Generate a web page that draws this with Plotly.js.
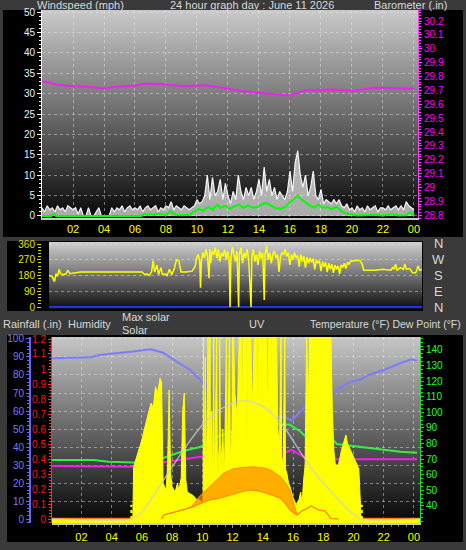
<!DOCTYPE html>
<html><head><meta charset="utf-8">
<script src="https://cdn.plot.ly/plotly-3.0.1.min.js"></script>
<style>html,body{margin:0;padding:0;background:#3a3a3a;overflow:hidden}#chart{width:466px;height:550px}</style>
</head><body><div id="chart"></div>
<script>
// ---------------- DATA ----------------
const hourTicks = [2,4,6,8,10,12,14,16,18,20,22,24];
const hourLabels = ['02','04','06','08','10','12','14','16','18','20','22','00'];

// wind gust (mph), one reading every 10 minutes from 00:00 to 24:00
const gustMph = [
 2,1,2.5,1.5,2,1,   2.5,1.5,2,1,2.5,2,   1.5,2,0.5,2,0,0,   2,0,0,1,2,0,
 0,0,0,2,1,2,       1.5,2.5,1,2,2.5,1.5, 2,1.5,2.5,1,2,2.5, 1.5,2,2.5,1,2,1.5,
 2.5,2,3.5,1.5,2.5,2, 1.5,2.5,2,1.5,2,2.5, 4,3,3.5,5,10,4,  9.5,5,6,9,4,8,
 5,3,6,4,10,6,      4,7,5,7,4,6,         9,5,12,6,9,5,      7,4,6,5,4,6,
 11,6,13,16,10,7,   10,5,7,11,5,4,       6.5,3,4,3.5,3,4,   3,4,2.5,2,3,1.5,
 2,1,2.5,1.5,2,1,   2.5,1.5,2,2.5,1,2,   2,1.5,2.5,1.5,2,2.5, 1.5,2.5,1.5,3.5,2.5,2,
 1.5];
const avgHours = [0,0.6,0.73,0.9,6.4,6.6,6.8,7.0,7.2,7.6,8.0,8.3,8.6,9.0,9.5,9.8,10.1,10.4,10.7,11.0,11.3,11.5,11.8,12.1,12.4,12.7,13.0,13.3,13.6,13.9,14.2,14.5,14.8,15.1,15.4,15.7,16.0,16.3,16.5,16.7,17.0,17.3,17.6,17.8,18.1,18.4,18.7,19.0,19.3,19.6,20.0,20.3,20.8,21.4,22.0,22.6,23.0,23.5,23.8,24.0];
const avgMph   = [0,0,0.7,0,0,0.5,0.2,0.5,0.3,0.6,0.2,1.2,0.3,0.2,0.3,1.0,1.8,1.2,2.2,1.6,2.7,2.0,2.5,1.8,2.3,2.8,2.0,2.6,2.0,2.2,2.9,3.2,2.5,1.9,1.8,2.2,3.4,4.2,5.0,4.2,3.3,2.5,2.0,2.8,2.0,2.2,1.6,2.3,1.2,0.6,0.4,0.1,0.2,0.3,0.1,0.4,0.1,0.2,0.9,0.2];
const baroHours = [0,0.2,0.95,1.6,2.9,4.05,4.8,5.9,6.75,8.0,9.1,10.6,11.9,13.2,14.5,15.6,16.0,17.0,18.8,20.1,21.4,22.7,24.0];
const baroInHg  = [29.765,29.762,29.743,29.733,29.726,29.714,29.726,29.733,29.75,29.743,29.731,29.738,29.714,29.69,29.678,29.668,29.663,29.702,29.707,29.697,29.719,29.716,29.712];

// wind direction readings [hour, degrees]
const dirReadings = [[0,180],[0.2,175],[0.35,145],[0.45,190],[0.55,175],[0.65,215],[0.75,190],[0.9,185],[1.1,190],[1.2,210],[1.35,190],[1.7,195],[2,200],[3,200],[4,200],[5,200],[6,200],[6.15,185],[6.3,190],[6.45,180],[6.6,200],[6.7,265],[6.8,200],[6.95,240],[7.05,185],[7.2,225],[7.3,185],[7.5,190],[7.6,180],[7.75,215],[7.9,185],[8.05,215],[8.2,270],[8.35,265],[8.5,200],[8.8,200],[9.2,205],[9.4,230],[9.5,280],[9.6,300],[9.7,260],[9.75,110],[9.8,260],[9.9,310],[10,280],[10.1,330],[10.2,290],[10.3,165],[10.35,330],[10.4,250],[10.5,320],[10.6,300],[10.7,340],[10.8,280],[10.9,330],[11,260],[11.1,310],[11.2,290],[11.3,330],[11.4,270],[11.5,320],[11.6,250],[11.65,0],[11.7,280],[11.8,345],[11.9,300],[12,260],[12.1,320],[12.2,0],[12.25,300],[12.35,340],[12.45,250],[12.55,310],[12.65,280],[12.75,330],[12.85,270],[13,0],[13.05,290],[13.15,330],[13.25,260],[13.35,300],[13.45,240],[13.55,320],[13.65,280],[13.75,310],[13.85,40],[13.9,300],[14,350],[14.1,270],[14.2,310],[14.3,250],[14.4,300],[14.5,320],[14.6,280],[14.7,300],[14.8,200],[14.9,290],[15,310],[15.1,300],[15.2,330],[15.3,290],[15.4,310],[15.5,240],[15.6,300],[15.7,270],[15.8,310],[15.9,280],[16,295],[16.1,230],[16.2,300],[16.3,260],[16.4,290],[16.5,225],[16.6,285],[16.7,250],[16.8,280],[16.9,255],[17,275],[17.1,215],[17.2,270],[17.3,250],[17.4,265],[17.5,205],[17.6,260],[17.7,230],[17.8,255],[17.9,200],[18,250],[18.1,215],[18.2,245],[18.3,195],[18.4,240],[18.5,215],[18.6,235],[18.7,190],[18.8,240],[18.9,225],[19,250],[19.1,220],[19.2,255],[19.3,245],[19.4,260],[19.7,265],[20,265],[20.15,245],[20.25,210],[20.6,210],[21,210],[21.5,215],[22,210],[22.1,225],[22.2,215],[22.3,245],[22.4,210],[22.6,225],[22.8,215],[22.9,245],[23,215],[23.2,220],[23.4,195],[23.6,195],[23.75,235],[23.85,210],[24,215]];
const dirBaseHours = [0,24];
const dirBaseDeg = [0,0];
const compassLabels = ['N','W','S','E','N'];
const compassDeg = [360,270,180,90,0];

// solar radiation readings [hour, W/m2]
const solarReadings = [[0,0],[5.4,0],[5.45,290],[5.6,330],[5.8,374],[6.0,440],[6.1,478],[6.3,540],[6.5,605],[6.6,644],[6.75,620],[6.9,735],[7.05,700],[7.2,783],[7.3,760],[7.4,200],[7.5,180],[7.6,160],[7.7,300],[7.8,717],[7.9,250],[8.0,180],[8.2,150],[8.35,200],[8.45,160],[8.6,230],[8.7,605],[8.8,700],[8.9,220],[9.0,150],[9.2,140],[9.4,130],[9.6,110],[9.8,106],
 [10.0,90],[10.05,100],[10.08,1050],[10.12,150],[10.2,900],[10.25,140],[10.38,1050],[10.42,120],[10.5,1050],[10.55,180],[10.62,600],[10.67,110],[10.75,1050],[10.8,140],[10.95,1050],[11.0,180],[11.1,400],[11.15,1050],[11.2,220],[11.35,500],[11.45,200],[11.6,1050],[11.65,280],[11.8,1050],[11.85,320],[11.95,500],[12.0,1050],[12.05,1050],[12.15,700],[12.3,560],[12.45,1050],[12.6,1050],[12.65,480],[12.7,1050],[12.9,1050],[12.95,420],[13.0,1050],[13.2,1050],[13.3,600],[13.45,1050],[13.6,1050],[13.65,450],[13.7,1050],[13.9,1050],[13.95,550],[14.0,1050],[14.25,1050],[14.32,550],[14.4,1050],[14.55,1050],[14.6,500],[14.65,1050],[14.9,1050],[15.0,500],[15.1,380],[15.2,1050],[15.25,350],[15.35,300],[15.45,1050],[15.5,280],[15.6,250],[15.7,200],[15.8,180],
 [16.0,120],[16.2,80],[16.4,110],[16.5,150],[16.6,90],[16.7,217],[16.8,300],[16.9,1050],[17.0,600],[17.1,1050],[18.5,1050],[18.6,600],[18.7,380],[18.8,300],[19.0,300],[19.2,380],[19.4,440],[19.5,467],[19.6,420],[19.8,380],[20.0,345],[20.2,300],[20.35,280],[20.45,100],[20.5,0],[24.4,0]];
const maxSolarReadings = [[0,0],[5.4,0],[6.0,40],[6.6,110],[7.0,160],[7.7,250],[8.8,390],[9.9,513],[11.0,600],[12.0,644],[12.8,657],[13.5,645],[14.3,610],[15.4,513],[16.5,370],[17.6,240],[18.7,135],[19.8,40],[20.5,0],[24.4,0]];
// UV index readings [hour, low, high]
const uvReadings = [[7.3,0,0],[7.44,0.7,0.7],[8.0,1.1,1.1],[8.76,1.55,1.55],[9.3,2.0,2.2],[9.87,2.7,4.1],[10.5,3.3,5.6],[11.0,3.5,6.9],[11.4,3.8,7.9],[12.07,4.4,8.7],[12.6,4.7,8.9],[13.2,5.0,9.0],[13.8,4.8,8.9],[14.28,4.4,8.7],[14.7,4.0,8.1],[15.17,3.6,7.3],[15.5,2.6,6.2],[15.8,1.55,5.0],[16.05,1.0,2.5],[16.27,0.7,0.7],[16.5,1.26,1.26],[16.9,1.8,1.8],[17.2,2.24,2.24],[17.5,1.8,1.8],[17.7,1.55,1.55],[18.1,1.4,1.4],[18.5,0.1,0.1],[19.0,0,0]];
const humReadings = [[0.05,89.3],[1,89.5],[2.6,89.8],[3.2,91.1],[4.3,92],[5.4,93],[6.6,94.3],[7.4,92.4],[8.3,87.4],[9.2,82.8],[10.1,75.4],[11.0,68],[12.1,62.4],[13.2,56.5],[14.3,56],[15.4,57],[15.9,54.6],[16.5,59.6],[17.2,66],[17.6,63],[17.9,66],[18.5,67],[18.9,71.7],[19.8,76.3],[20.5,77.6],[21.0,80],[22.0,82.8],[23.1,86.5],[23.8,88.7],[24.2,88]];
const tempReadings = [[0.05,69.5],[2.8,69.5],[3.8,68.4],[5.4,67.8],[6.6,68],[7.7,71.6],[8.8,75.4],[9.9,78],[11.0,84.4],[12.1,88],[13.2,90.8],[14.3,93],[15.4,92.4],[15.8,92],[16.5,87.6],[17.2,81.2],[17.8,82.3],[18.5,83.8],[18.9,79.7],[19.8,78.7],[20.9,77],[22.0,75.9],[23.1,74.8],[24.2,74.2]];
const dewReadings = [[0.05,65.6],[5.4,65.2],[6.6,66.3],[7.7,68.4],[8.8,69.9],[9.9,71.6],[11.0,72.7],[12.1,72.7],[13.2,73.8],[14.3,74.6],[15.6,74.8],[15.9,75.9],[16.5,72.7],[17.2,68.4],[17.8,67.4],[18.5,69.9],[19.8,69.9],[22,69.9],[24.2,69.9]];
const rainHours = [0.05,24.4];
const rainIn = [0,0];
const sunEvents = [5.3,20.55];

// ---------------- LAYOUT HELPERS ----------------
const W = 466, H = 550;
const px = v => v / W, py = v => 1 - v / H;
const topX = [px(42), px(418)], topY = [py(218), py(10)];
const midX = [px(49), px(422)], midY = [py(309), py(242)];
const lowX = [px(52), px(420)], lowY = [py(523), py(337)];
const windRange = [-0.5, 50.5], baroRange = [28.78, 30.28];
const dirRange = [-11.4, 371.4];
const humRange = [-2.2, 101.1], rainRange = [-0.0267, 1.2133], tempRange = [29.1, 148.3];
const solarRange = [-22, 1011], uvRange = [-0.69, 31.4];

const col = (arr, i) => arr.map(r => r[i]);
const FONT = 'Liberation Sans, Arial, sans-serif';
const GRID = 'rgba(235,235,235,0.45)';

function svgUri(body){ return 'data:image/svg+xml;charset=utf-8,' + encodeURIComponent('<svg xmlns="http://www.w3.org/2000/svg" width="10" height="100" viewBox="0 0 10 100" preserveAspectRatio="none">' + body + '</svg>'); }
const blackUri = svgUri('<rect width="10" height="100" fill="#000"/>');
function gradUri(c0, c1, c2){ return svgUri('<defs><linearGradient id="g" x1="0" y1="0" x2="0" y2="1"><stop offset="0" stop-color="'+c0+'"/><stop offset="0.5" stop-color="'+c1+'"/><stop offset="1" stop-color="'+c2+'"/></linearGradient></defs><rect width="10" height="100" fill="url(#g)"/>'); }
function panel(src, x0, x1, y0, y1){ return {source: src, xref:'paper', yref:'paper', x: px(x0), y: py(y0), sizex: px(x1)-px(x0), sizey: py(y0)-py(y1), sizing:'stretch', layer:'below', xanchor:'left', yanchor:'top'}; }
function plotBg(src, dx, dy){ return {source: src, xref:'paper', yref:'paper', x: dx[0], y: dy[1], sizex: dx[1]-dx[0], sizey: dy[1]-dy[0], sizing:'stretch', layer:'below', xanchor:'left', yanchor:'top'}; }

// ---------------- TRACES ----------------
const base = {type:'scatter', mode:'lines', hoverinfo:'skip', showlegend:false};
const traces = [
  Object.assign({}, base, {x: gustMph.map((_, i) => i / 6), y: gustMph, xaxis:'x', yaxis:'y', line:{color:'#f6f6f6', width:1.2}, fill:'tozeroy', fillcolor:'rgba(240,240,240,0.7)'}),
  Object.assign({}, base, {x: avgHours, y: avgMph, xaxis:'x', yaxis:'y', line:{color:'#00ff00', width:2}}),
  Object.assign({}, base, {x: baroHours, y: baroInHg, xaxis:'x', yaxis:'y2', line:{color:'#ee22ee', width:2}}),

  Object.assign({}, base, {x: dirBaseHours, y: dirBaseDeg, xaxis:'x2', yaxis:'y3', line:{color:'#2030ff', width:2}}),
  Object.assign({}, base, {x: col(dirReadings,0), y: col(dirReadings,1), xaxis:'x2', yaxis:'y3', line:{color:'#ffff00', width:1.5}}),

  Object.assign({}, base, {x: rainHours, y: [solarRange[0], solarRange[0]], xaxis:'x3', yaxis:'y7', line:{width:0, color:'rgba(0,0,0,0)'}}),
  Object.assign({}, base, {x: col(solarReadings,0), y: col(solarReadings,1), xaxis:'x3', yaxis:'y7', line:{color:'#ffff00', width:1}, fill:'tonexty', fillcolor:'#ffff00'}),
  Object.assign({}, base, {x: col(uvReadings,0), y: col(uvReadings,1), xaxis:'x3', yaxis:'y8', line:{color:'#ff8c00', width:1.2}}),
  Object.assign({}, base, {x: col(uvReadings,0), y: col(uvReadings,2), xaxis:'x3', yaxis:'y8', line:{color:'#ff8c00', width:1}, fill:'tonexty', fillcolor:'rgba(255,140,0,0.7)'}),
  Object.assign({}, base, {x: rainHours, y: rainIn, xaxis:'x3', yaxis:'y5', line:{color:'#ff0000', width:3}}),
  Object.assign({}, base, {x: col(maxSolarReadings,0), y: col(maxSolarReadings,1), xaxis:'x3', yaxis:'y7', line:{color:'rgba(205,205,205,0.75)', width:1.5, shape:'spline', smoothing:0.5}}),
  Object.assign({}, base, {x: col(humReadings,0), y: col(humReadings,1), xaxis:'x3', yaxis:'y4', line:{color:'#7c7cff', width:2}}),
  Object.assign({}, base, {x: col(tempReadings,0), y: col(tempReadings,1), xaxis:'x3', yaxis:'y6', line:{color:'#33ee44', width:2}}),
  Object.assign({}, base, {x: col(dewReadings,0), y: col(dewReadings,1), xaxis:'x3', yaxis:'y6', line:{color:'#ee22ee', width:2}})
];

// ---------------- AXES ----------------
const hourAxis = (domain, range, anchor) => ({domain, range, anchor, tickmode:'array', tickvals: hourTicks, ticktext: hourLabels,
  tickfont:{family:FONT, size:11, color:'#ffff00'}, showgrid:true, gridcolor:GRID, griddash:'dot', zeroline:false,
  showline:true, linecolor:'#c8c8c8', linewidth:2, ticks:'', fixedrange:true});

const layout = {
  width: W, height: H, margin:{l:0, r:0, t:0, b:0}, paper_bgcolor:'#3a3a3a', plot_bgcolor:'rgba(0,0,0,0)',
  showlegend:false, font:{family:FONT, color:'#d8d8d8'},
  xaxis: hourAxis(topX, [0, 24.26], 'y'),
  yaxis: {domain: topY, range: windRange, tickmode:'linear', tick0:0, dtick:5, tickfont:{family:FONT, size:10, color:'#e6f0ff'},
    showline:true, linecolor:'#ffffff', linewidth:1, ticks:'outside', ticklen:4, tickcolor:'#ffffff',
    minor:{dtick:1, ticks:'outside', ticklen:2, tickcolor:'#ffffff', showgrid:false},
    showgrid:true, gridcolor:GRID, griddash:'dot', zeroline:false, fixedrange:true},
  yaxis2: {overlaying:'y', side:'right', anchor:'x', range: baroRange, tickmode:'linear', tick0:28.8, dtick:0.1,
    tickfont:{family:FONT, size:10, color:'#ff00ff'}, showline:true, linecolor:'#ff40ff', linewidth:1,
    ticks:'outside', ticklen:3, tickcolor:'#ff40ff', minor:{dtick:0.02, ticks:'outside', ticklen:2, tickcolor:'#ff40ff'},
    showgrid:false, zeroline:false, fixedrange:true},

  xaxis2: {domain: midX, range:[0,24], anchor:'y3', showticklabels:false, showgrid:false, zeroline:false, showline:false, ticks:'', fixedrange:true},
  yaxis3: {domain: midY, range: dirRange, tickmode:'array', tickvals:[0,90,180,270,360], tickfont:{family:FONT, size:10, color:'#e6e600'},
    ticks:'outside', ticklen:4, tickcolor:'#d8d800', minor:{tickmode:'linear', tick0:0, dtick:18, ticks:'outside', ticklen:3, tickcolor:'#d8d800'},
    showgrid:true, gridcolor:GRID, griddash:'dot', zeroline:false, showline:false, fixedrange:true},

  xaxis3: Object.assign(hourAxis(lowX, [0.05, 24.4], 'y4'), {ticks:'outside', ticklen:3, tickcolor:'#909090',
    minor:{tickmode:'linear', dtick:0.5, tick0:0, ticks:'outside', ticklen:2, tickcolor:'#808080', showgrid:false}}),
  yaxis4: {domain: lowY, range: humRange, anchor:'free', position: px(30), side:'left', tickmode:'linear', tick0:0, dtick:10,
    tickfont:{family:FONT, size:10, color:'#7878ff'}, showline:true, linecolor:'#6666ff', linewidth:2,
    ticks:'outside', ticklen:3, tickcolor:'#6666ff', minor:{dtick:2, ticks:'outside', ticklen:2, tickcolor:'#6666ff'},
    showgrid:true, gridcolor:GRID, griddash:'dot', zeroline:false, fixedrange:true},
  yaxis5: {overlaying:'y4', anchor:'free', position: px(51), side:'left', range: rainRange, tickmode:'linear', tick0:0, dtick:0.1,
    tickfont:{family:FONT, size:10, color:'#ff1010'}, showline:true, linecolor:'#ff3030', linewidth:1,
    ticks:'outside', ticklen:3, tickcolor:'#ff3030', minor:{dtick:0.02, ticks:'outside', ticklen:2, tickcolor:'#ff3030'},
    showgrid:false, zeroline:false, fixedrange:true},
  yaxis6: {overlaying:'y4', anchor:'x3', side:'right', range: tempRange, tickmode:'array', tickvals:[40,50,60,70,80,90,100,110,120,130,140],
    tickfont:{family:FONT, size:10, color:'#22ff22'}, showline:true, linecolor:'#22dd22', linewidth:1,
    ticks:'outside', ticklen:3, tickcolor:'#22dd22', minor:{tickmode:'linear', tick0:0, dtick:2.5, ticks:'outside', ticklen:2, tickcolor:'#22dd22'},
    showgrid:false, zeroline:false, fixedrange:true},
  yaxis7: {overlaying:'y4', range: solarRange, visible:false, fixedrange:true},
  yaxis8: {overlaying:'y4', range: uvRange, visible:false, fixedrange:true},

  images: [
    panel(blackUri, 3, 463, 10, 237),
    panel(blackUri, 7, 423, 241, 311),
    panel(blackUri, 7, 463, 335, 542),
    plotBg(gradUri('#cacaca', '#6c6c6c', '#070707'), topX, topY),
    plotBg(gradUri('#d0d0d0', '#727272', '#0c0c0c'), midX, midY),
    plotBg(gradUri('#c6c6c6', '#666666', '#050505'), lowX, lowY)
  ],
  shapes: sunEvents.map(t => ({type:'line', xref:'x3', yref:'y4', x0:t, x1:t, y0:0, y1:8, line:{color:'#ffff00', width:2, dash:'dot'}})),
  annotations: [
    {text:'Windspeed (mph)', x:px(35), y:py(5), xanchor:'left'},
    {text:'24 hour graph day : June 11 2026', x:px(252), y:py(5), xanchor:'center'},
    {text:'Barometer (.in)', x:px(372), y:py(5), xanchor:'left'},
    {text:'Rainfall (.in)', x:px(1), y:py(324), xanchor:'left'},
    {text:'Humidity', x:px(66), y:py(324), xanchor:'left'},
    {text:'Max solar', x:px(120), y:py(317), xanchor:'left'},
    {text:'Solar', x:px(120), y:py(330), xanchor:'left'},
    {text:'UV', x:px(247), y:py(324), xanchor:'left'},
    {text:'Temperature (°F) Dew Point (°F)', x:px(463), y:py(324), xanchor:'right', font:{family:FONT, size:10.5, color:'#d8d8d8'}}
  ].map(a => Object.assign({xref:'paper', yref:'paper', yanchor:'middle', showarrow:false, font:{family:FONT, size:11, color:'#d8d8d8'}}, a))
   .concat(compassLabels.map((t, i) => ({text:t, xref:'paper', yref:'y3', x:px(438), y:compassDeg[i], xanchor:'center', yanchor:'middle', showarrow:false, font:{family:FONT, size:13, color:'#d8d8d8'}})))
};

Plotly.newPlot('chart', traces, layout, {staticPlot:true, displayModeBar:false});
</script></body></html>
